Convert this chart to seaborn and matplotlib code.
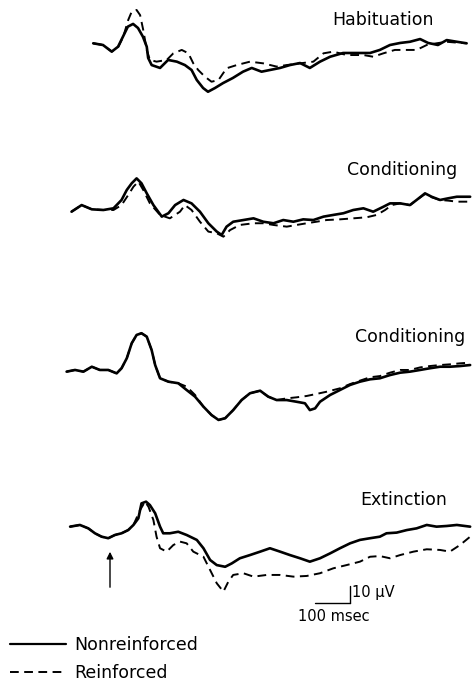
import numpy as np
import pandas as pd
import matplotlib
matplotlib.use("Agg")
import matplotlib.pyplot as plt
from matplotlib.lines import Line2D
import seaborn as sns

# ---- data: averaged evoked potentials, time in msec (0 = stimulus), amplitude in microvolts
hab_t_solid = [-48, -20, 5, 23, 37, 51, 66, 80, 94, 105, 109, 119, 143, 166, 191, 214, 233, 248, 266, 280,
               300, 323, 351, 380, 405, 433, 457, 486, 514, 543, 571, 600, 629, 666, 705, 743, 771, 800,
               829, 857, 886, 909, 937, 962, 991, 1019]
hab_v_solid = [1.0, 0, -3.9, -1.0, 4.9, 10.8, 12.4, 10.0, 4.9, -1.0, -7.6, -11.8, -13.5, -8.8, -9.8, -11.8,
               -14.7, -20.6, -25.3, -27.5, -25.3, -22.4, -19.4, -15.7, -13.5, -15.7, -14.7, -13.5, -11.8,
               -10.6, -13.5, -9.8, -6.9, -4.7, -4.7, -4.7, -2.9, 0, 1.2, 1.9, 3.5, 1.2, 0, 2.9, 1.9, 1.0]
hab_t_dash = [-48, -20, 5, 24, 38, 52, 62, 76, 86, 95, 105, 114, 133, 162, 181, 205, 224, 238, 252, 271, 290,
              310, 333, 362, 400, 438, 476, 505, 543, 581, 610, 638, 676, 724, 752, 781, 814, 848, 876, 905,
              933, 962, 991, 1019]
hab_v_dash = [1.0, 0, -3.9, -1.0, 4.9, 14.7, 19.6, 20.6, 17.6, 8.8, -2.9, -8.8, -9.8, -8.8, -4.9, -2.9, -4.9,
              -10.8, -14.7, -18.6, -21.6, -20.6, -13.7, -11.8, -9.8, -10.8, -12.7, -11.8, -10.8, -9.8, -4.9,
              -3.9, -5.9, -5.9, -6.9, -4.9, -2.9, -2.9, -2.9, 0, 1.0, 1.9, 1.4, 1.0]

con1_t_solid = [-110, -81, -52, -19, 10, 33, 48, 62, 76, 90, 105, 124, 148, 167, 186, 210, 233, 257, 281, 305,
                319, 333, 352, 381, 410, 438, 467, 495, 524, 552, 581, 610, 638, 667, 695, 724, 752, 781, 800,
                829, 857, 876, 900, 919, 943, 967, 991, 1029]
con1_v_solid = [-1.0, 2.9, 0.4, 0, 1.0, 5.9, 11.8, 15.7, 18.6, 15.7, 9.8, 2.9, -3.9, -1.9, 2.9, 5.9, 3.9, -1.0,
                -7.8, -12.7, -14.7, -9.8, -6.9, -5.9, -4.9, -6.9, -7.8, -5.9, -6.9, -5.5, -5.9, -3.9, -2.9,
                -1.9, 0, 1.0, -1.0, 1.9, 3.9, 3.9, 2.9, 5.9, 9.8, 7.8, 5.9, 6.9, 7.8, 7.8]
con1_t_dash = [-110, -81, -52, -19, 10, 33, 52, 67, 81, 95, 114, 143, 171, 200, 214, 233, 257, 281, 305, 324,
               343, 371, 410, 438, 467, 505, 533, 562, 590, 619, 657, 695, 733, 762, 786, 805, 829, 857, 876,
               900, 919, 943, 967, 991, 1029]
con1_v_dash = [-1.0, 2.9, 0.4, 0, 0, 2.9, 8.8, 13.7, 16.7, 11.8, 3.9, -2.9, -4.9, -1.0, 2.9, 0, -6.9, -12.7,
               -13.7, -15.7, -11.8, -8.8, -7.8, -7.8, -8.8, -9.8, -8.8, -7.8, -6.9, -5.9, -5.5, -4.9, -4.3,
               -2.9, 0, 2.9, 3.9, 2.9, 5.9, 9.4, 7.5, 5.9, 5.5, 4.9, 4.9]

con2_t_solid = [-124, -100, -76, -52, -29, -5, 19, 33, 48, 62, 76, 90, 105, 119, 129, 143, 167, 195, 219, 243,
                267, 290, 310, 329, 352, 376, 400, 429, 452, 476, 505, 533, 557, 571, 586, 600, 629, 657, 686,
                714, 743, 771, 800, 829, 857, 886, 914, 943, 971, 1000, 1029]
con2_v_solid = [0.2, 1.2, 0.2, 3.1, 1.2, 1.2, -0.8, 2.2, 8.1, 16.9, 21.8, 22.8, 20.8, 12.9, 4.1, -3.7, -5.7,
                -6.6, -10.6, -14.5, -20.4, -25.3, -28.2, -27.2, -22.4, -16.5, -12.5, -11.0, -14.5, -16.5,
                -16.5, -17.5, -18.4, -22.4, -21.4, -17.5, -13.5, -10.6, -7.6, -5.7, -4.3, -3.7, -1.8, -0.4,
                0.2, 1.2, 2.2, 3.1, 3.1, 3.5, 4.1]
con2_t_dash = [-124, -100, -76, -52, -29, -5, 19, 33, 48, 62, 76, 90, 105, 119, 129, 143, 167, 195, 219, 243,
               267, 290, 310, 329, 352, 376, 400, 429, 452, 476, 505, 533, 562, 590, 619, 657, 686, 714, 743,
               771, 800, 829, 857, 886, 914, 943, 971, 1000, 1029]
con2_v_dash = [0.2, 1.2, 0.2, 3.1, 1.2, 1.2, -0.8, 2.2, 8.1, 16.9, 21.8, 22.8, 20.8, 12.9, 4.1, -3.7, -5.7,
               -6.6, -8.6, -13.5, -20.4, -25.3, -28.2, -27.2, -22.4, -16.5, -12.5, -11.0, -14.5, -16.5, -15.5,
               -14.9, -14.1, -12.9, -11.6, -9.6, -7.1, -5.1, -3.1, -2.4, -0.4, 1.2, 1.2, 2.7, 3.5, 4.1, 4.5,
               5.1, 5.5]

ext_t_solid = [-114, -86, -62, -43, -24, -5, 14, 33, 52, 67, 81, 90, 103, 114, 129, 143, 152, 171, 195, 219,
               248, 267, 286, 305, 329, 348, 371, 400, 429, 457, 486, 514, 543, 571, 600, 629, 657, 686, 714,
               743, 771, 790, 819, 848, 876, 905, 933, 962, 991, 1029]
ext_v_solid = [0.2, 1.2, -0.8, -3.7, -5.7, -6.6, -4.7, -3.7, -1.8, 1.2, 5.1, 13.9, 14.9, 12.9, 8.1, 0.2, -3.7,
               -3.7, -2.8, -4.7, -7.6, -12.5, -19.4, -22.4, -23.4, -21.4, -18.4, -16.5, -14.5, -12.5, -14.5,
               -16.5, -18.4, -20.4, -18.4, -15.5, -12.5, -9.6, -7.6, -6.6, -5.7, -3.7, -3.3, -1.8, -0.8, 1.2,
               0.2, 0.6, 1.2, 0.2]
ext_t_dash = [-114, -86, -62, -43, -24, -5, 14, 33, 52, 67, 86, 100, 110, 124, 133, 143, 162, 181, 200, 219,
              238, 267, 286, 305, 324, 338, 352, 381, 410, 448, 486, 524, 562, 600, 638, 676, 714, 743, 771,
              800, 829, 867, 905, 943, 971, 1000, 1029]
ext_v_dash = [0.2, 1.2, -0.8, -3.7, -5.7, -6.6, -4.7, -3.7, -1.8, 1.2, 10.0, 14.9, 11.9, 4.1, -5.7, -12.5,
              -14.5, -10.6, -8.6, -9.6, -14.5, -17.5, -25.3, -33.1, -38.0, -32.2, -28.2, -27.2, -29.2, -28.2,
              -28.2, -29.2, -28.8, -27.2, -24.3, -22.4, -20.4, -17.5, -17.1, -18.4, -16.5, -14.5, -13.1,
              -13.5, -14.5, -10.6, -5.7]

panel_names = ["Habituation", "Conditioning", "Conditioning", "Extinction"]

# ---- layout (figure built on a msec / microvolt canvas)
UV_PER_PX = 1 / 1.7
MS_PER_PX = 100 / 35.0
offsets = [-45 * UV_PER_PX, -210 * UV_PER_PX, -372 * UV_PER_PX, -527 * UV_PER_PX]
label_pos = [(434, 20), (457, 170), (465, 337), (447, 500)]

traces = [
    (hab_t_solid, hab_v_solid, hab_t_dash, hab_v_dash),
    (con1_t_solid, con1_v_solid, con1_t_dash, con1_v_dash),
    (con2_t_solid, con2_v_solid, con2_t_dash, con2_v_dash),
    (ext_t_solid, ext_v_solid, ext_t_dash, ext_v_dash),
]

sns.set_style("white")
plt.rcParams['font.family'] = ['DejaVu Sans']
plt.rcParams['text.color'] = 'black'

fig = plt.figure(figsize=(4.73, 6.81), dpi=100)
ax = fig.add_axes([0, 0, 1, 1])

def px_x(px):
    return (px - 110) * MS_PER_PX

def px_y(py):
    return -py * UV_PER_PX

dash_style = (0, (4.5, 2.8))

for i, (ts, vs, td, vd) in enumerate(traces):
    off = offsets[i]
    sns.lineplot(ax=ax, x=td, y=np.array(vd) + off, color='black', lw=1.4, sort=False,
                 linestyle=dash_style, estimator=None)
    sns.lineplot(ax=ax, x=ts, y=np.array(vs) + off, color='black', lw=1.9, sort=False,
                 estimator=None)
    lx, ly = label_pos[i]
    ax.text(px_x(lx), px_y(ly), panel_names[i], ha='right', va='center', fontsize=12.5)

# stimulus arrow
ax.annotate("", xy=(0, px_y(549)), xytext=(0, px_y(590)),
            arrowprops=dict(arrowstyle='-|>', color='black', lw=1.0, mutation_scale=10))

# calibration bars: 100 msec, 10 uV
bar_x0 = px_x(315)
bar_y0 = px_y(603)
ax.plot([bar_x0, bar_x0 + 100], [bar_y0, bar_y0], color='black', lw=1.0)
ax.plot([bar_x0 + 100, bar_x0 + 100], [bar_y0, bar_y0 + 10], color='black', lw=1.0)
ax.text(bar_x0 + 107, bar_y0 + 6, "10 \u03bcV", ha='left', va='center', fontsize=10.5)
ax.text(bar_x0 + 55, px_y(617), "100 msec", ha='center', va='center', fontsize=10.5)

ax.set_xlim(px_x(0), px_x(473))
ax.set_ylim(px_y(681), px_y(0))
ax.axis('off')

handles = [Line2D([], [], color='black', lw=1.6),
           Line2D([], [], color='black', lw=1.4, linestyle=dash_style)]
fig.legend(handles, ["Nonreinforced", "Reinforced"], loc='upper left',
           bbox_to_anchor=(0.0, 1 - 626 / 681), frameon=False, fontsize=12.5,
           handlelength=3.2, handletextpad=0.5, labelspacing=0.55, borderaxespad=0.2)

fig.savefig("out.png", dpi=100)
